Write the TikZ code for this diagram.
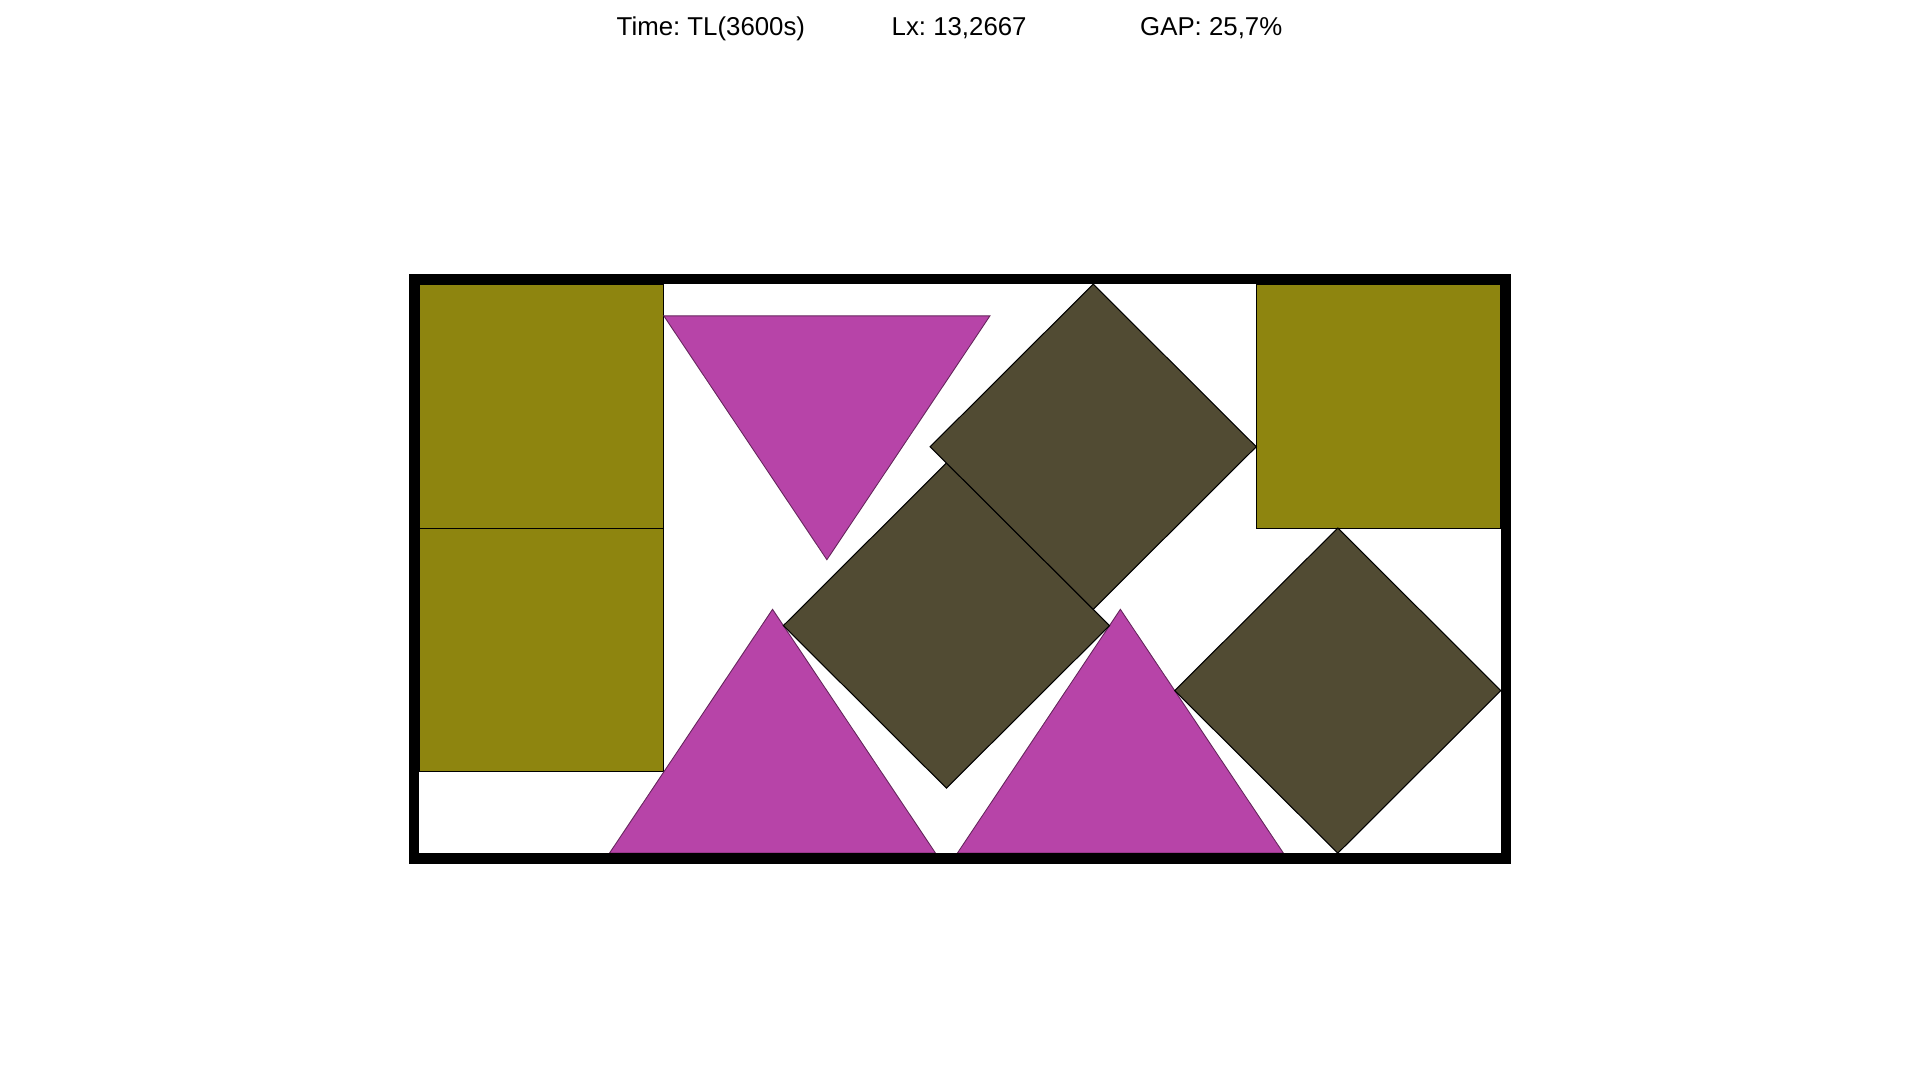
\documentclass[tikz,border=0pt]{standalone}
\usepackage{fontspec}
\setmainfont{Liberation Sans}
\frenchspacing
\definecolor{olivefill}{RGB}{142,133,15}
\definecolor{darkfill}{RGB}{81,75,51}
\definecolor{magfill}{RGB}{183,68,168}
\tikzset{
  olivebox/.style={fill=olivefill,draw=black,line width=0.3pt},
  darkbox/.style={fill=darkfill,draw=black,line width=0.3pt},
  magtri/.style={fill=magfill,draw=black!45!magfill,line width=0.25pt},
  frameline/.style={draw=black,line width=0.105cm},
  headtext/.style={anchor=base west,inner sep=0pt,font=\fontsize{7.34pt}{8pt}\selectfont}
}
\begin{document}
\begin{tikzpicture}[x=0.01cm,y=-0.01cm]
\useasboundingbox (0,0) rectangle (1920,1080);
\node[headtext] (time) at (616,35.5) {Time: TL(3600s)};
\node[headtext] (lx) at (891,35.5) {Lx: 13,2667};
\node[headtext] (gap) at (1139.5,35.5) {GAP: 25,7\%};
\begin{scope}[shift={(4.19cm,-8.527cm)},x=0.8148cm,y=0.8124cm]
  % olive squares
  \path[olivebox] (0,4) rectangle (3,7);
  \path[olivebox] (0,1) rectangle (3,4);
  \path[olivebox] (10.2667,4) rectangle (13.2667,7);
  % magenta triangles
  \path[magtri] (3,6.61) -- (7,6.61) -- (5,3.61) -- cycle;
  \path[magtri] (2.3333,0) -- (6.3333,0) -- (4.3333,3) -- cycle;
  \path[magtri] (6.6,0) -- (10.6,0) -- (8.6,3) -- cycle;
  % dark rotated squares
  \path[darkbox] (4.4667,2.8) -- (6.4667,4.8) -- (8.4667,2.8) -- (6.4667,0.8) -- cycle;
  \path[darkbox] (6.2667,5) -- (8.2667,7) -- (10.2667,5) -- (8.2667,3) -- cycle;
  \path[darkbox] (9.2667,2) -- (11.2667,4) -- (13.2667,2) -- (11.2667,0) -- cycle;
  % container frame
  \path[frameline] (-0.064,-0.064) rectangle (13.3307,7.064);
\end{scope}
\end{tikzpicture}
\end{document}
